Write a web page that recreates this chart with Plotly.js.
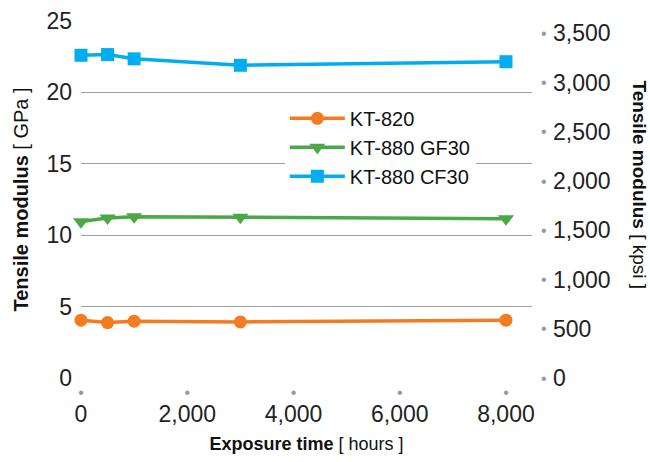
<!DOCTYPE html>
<html><head><meta charset="utf-8">
<script src="https://cdn.plot.ly/plotly-3.0.1.min.js"></script>
<style>html,body{margin:0;padding:0;background:#fff}</style>
</head><body><div id="chart" style="width:650px;height:462px"></div>
<script>
const hours = [0, 500, 1000, 3000, 8000];
const kt820 = [4.05, 3.88, 3.98, 3.93, 4.05];
const kt880gf30 = [10.95, 11.2, 11.3, 11.25, 11.15];
const kt880cf30 = [22.6, 22.65, 22.35, 21.9, 22.15];
const seriesNames = ['KT-820', 'KT-880 GF30', 'KT-880 CF30'];
const xTickVals = [0, 2000, 4000, 6000, 8000];
const xTickLabels = ['0', '2,000', '4,000', '6,000', '8,000'];
const yTickVals = [0, 5, 10, 15, 20, 25];
const yTickLabels = ['0', '5', '10', '15', '20', '25'];
const kpsiTickVals = [0, 500, 1000, 1500, 2000, 2500, 3000, 3500];
const kpsiTickLabels = ['0', '500', '1,000', '1,500', '2,000', '2,500', '3,000', '3,500'];
const GPA_TO_KPSI = 145.038;
const X_MAX = 8490;
const Y_MAX = 25;

const FONT = '"Liberation Sans", Arial, Helvetica, sans-serif';
const colors = ['#F47B20', '#4AA846', '#00AEEF'];
const symbols = ['circle', 'triangle-down', 'square'];
const sizes = [13, 14, 13];
const seriesData = [kt820, kt880gf30, kt880cf30];

const traces = seriesData.map((ys, i) => ({
  type: 'scatter', mode: 'lines+markers', name: seriesNames[i],
  x: hours, y: ys, xaxis: 'x', yaxis: 'y',
  line: {color: colors[i], width: 3.5},
  marker: {color: colors[i], symbol: symbols[i], size: sizes[i]},
  cliponaxis: false
}));
// invisible helper traces so the secondary axes render
traces.push({type: 'scatter', mode: 'markers', x: hours, y: kt880cf30.map(v => v * GPA_TO_KPSI),
  xaxis: 'x2', yaxis: 'y2', showlegend: false, hoverinfo: 'skip', marker: {opacity: 0}});
traces.push({type: 'scatter', mode: 'markers', x: hours, y: kt880cf30.map(v => v * GPA_TO_KPSI),
  xaxis: 'x2', yaxis: 'y3', showlegend: false, hoverinfo: 'skip', marker: {opacity: 0}});

const dot = n => Array(n).fill('•');

const layout = {
  width: 650, height: 462,
  margin: {l: 81, r: 118, t: 21, b: 84, pad: 0},
  paper_bgcolor: '#fff', plot_bgcolor: 'rgba(0,0,0,0)',
  font: {family: FONT, color: '#222'},
  showlegend: true,
  legend: {x: 0.452, y: 0.782, xanchor: 'left', yanchor: 'top', bgcolor: '#fff', itemwidth: 55,
    font: {family: FONT, size: 20, color: '#111'}, borderwidth: 0, tracegroupgap: 0},
  xaxis: {range: [0, X_MAX], tickvals: xTickVals, ticktext: xTickLabels, showgrid: false,
    zeroline: false, showline: false, ticks: '', tickfont: {size: 23, color: '#222'},
    ticklabelstandoff: 20,
    title: {text: '<b>Exposure time</b> [ hours ]', font: {size: 18, color: '#111'}, standoff: 11}},
  xaxis2: {overlaying: 'x', anchor: 'y', side: 'bottom', range: [0, X_MAX], tickvals: xTickVals,
    ticktext: dot(xTickVals.length), showgrid: false, zeroline: false, showline: false, ticks: '',
    tickfont: {size: 16, color: '#999'}, ticklabelstandoff: 3},
  yaxis: {range: [0, Y_MAX], tickvals: yTickVals, ticktext: yTickLabels, showgrid: true,
    gridcolor: '#a0a0a0', gridwidth: 1.3, zeroline: false, showline: false, ticks: '',
    tickfont: {size: 23, color: '#222'}, ticklabelstandoff: 8,
    title: {text: '<b>Tensile modulus</b> [ GPa ]', font: {size: 20, color: '#111'}, standoff: 12}},
  yaxis2: {overlaying: 'y', side: 'right', anchor: 'x', range: [0, Y_MAX * GPA_TO_KPSI],
    tickvals: kpsiTickVals, ticktext: kpsiTickLabels, showgrid: false, zeroline: false,
    showline: false, ticks: '', tickfont: {size: 23, color: '#222'}, ticklabelstandoff: 20},
  yaxis3: {overlaying: 'y', side: 'right', anchor: 'x', range: [0, Y_MAX * GPA_TO_KPSI],
    tickvals: kpsiTickVals, ticktext: dot(kpsiTickVals.length), showgrid: false, zeroline: false,
    showline: false, ticks: '', tickfont: {size: 16, color: '#999'}, ticklabelstandoff: 8},
  annotations: [{text: '<b>Tensile modulus</b> [ kpsi ]', textangle: 90, xref: 'paper', yref: 'paper',
    x: 1.239, y: 0.54, xanchor: 'center', yanchor: 'middle', showarrow: false,
    font: {family: FONT, size: 19, color: '#111'}}]
};

Plotly.newPlot('chart', traces, layout, {displayModeBar: false, staticPlot: true});
</script></body></html>
